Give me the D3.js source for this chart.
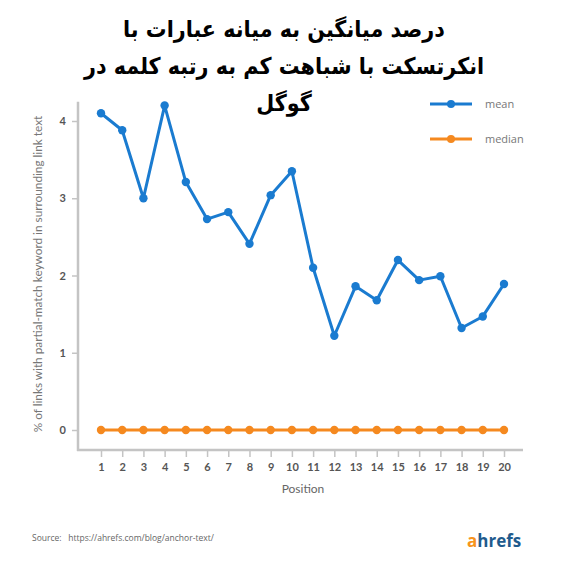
<!DOCTYPE html>
<html>
<head>
<meta charset="utf-8">
<script src="https://cdn.jsdelivr.net/npm/d3@7/dist/d3.min.js"></script>
<style>
html,body{margin:0;padding:0;background:#fff;}
svg{display:block;}
</style>
</head>
<body>
<svg id="chart" width="565" height="572"></svg>
<script>
const positions = [1,2,3,4,5,6,7,8,9,10,11,12,13,14,15,16,17,18,19,20];
const meanValues = [4.10,3.88,3.00,4.20,3.21,2.73,2.82,2.41,3.04,3.35,2.10,1.22,1.86,1.68,2.20,1.94,1.99,1.32,1.47,1.89];
const medianValues = [0,0,0,0,0,0,0,0,0,0,0,0,0,0,0,0,0,0,0,0];
const yTicks = [0,1,2,3,4];
const seriesNames = ["mean","median"];
const seriesColors = ["#1a7bd0","#f5891f"];
const titleLines = ["درصد میانگین به میانه عبارات با","انکرتسکت با شباهت کم به رتبه کلمه در","گوگل"];
const yLabel = "% of links with partial-match keyword in surrounding link text";
const xLabel = "Position";
const sourceText = "Source:   https://ahrefs.com/blog/anchor-text/";

const svg = d3.select("#chart");

const x = d3.scaleLinear().domain([1,20]).range([101,504]);
const y = d3.scaleLinear().domain([0,4]).range([430,121]);

const axisColor = "#c4c4c4";
svg.append("line").attr("x1",78).attr("x2",78).attr("y1",y(4.25)).attr("y2",451)
  .attr("stroke",axisColor).attr("stroke-width",2.5);
svg.append("line").attr("x1",77).attr("x2",523).attr("y1",450).attr("y2",450)
  .attr("stroke",axisColor).attr("stroke-width",2.5);

const yAxis = d3.axisLeft(y).tickValues(yTicks).tickSize(6).tickPadding(6).tickFormat(d3.format("d"));
const gy = svg.append("g").attr("transform","translate(78,0)").call(yAxis);
gy.select(".domain").remove();
gy.selectAll(".tick line").attr("stroke",axisColor).attr("stroke-width",1.5);
gy.selectAll(".tick text").attr("fill","#555").style("font-family","Lato, sans-serif")
  .style("font-size","11px").style("font-weight","bold");

const xAxis = d3.axisBottom(x).tickValues(positions).tickSize(6).tickPadding(6).tickFormat(d3.format("d"));
const gx = svg.append("g").attr("transform","translate(0,451)").call(xAxis);
gx.select(".domain").remove();
gx.selectAll(".tick line").attr("stroke",axisColor).attr("stroke-width",1.5);
gx.selectAll(".tick text").attr("fill","#555").style("font-family","Lato, sans-serif")
  .style("font-size","11px").style("font-weight","bold");

svg.append("text").attr("x",303).attr("y",493).attr("text-anchor","middle")
  .style("font-family","Lato, sans-serif").style("font-size","12px").attr("fill","#666").text(xLabel);
svg.append("text").attr("transform","translate(42,274) rotate(-90)").attr("text-anchor","middle")
  .style("font-family","Lato, sans-serif").style("font-size","11.8px").attr("fill","#777").text(yLabel);

const seriesData = [meanValues, medianValues];
const line = d3.line().x((d,i)=>x(positions[i])).y(d=>y(d));
[1,0].forEach(s=>{
  svg.append("path").datum(seriesData[s]).attr("d",line).attr("fill","none")
    .attr("stroke",seriesColors[s]).attr("stroke-width",3).attr("stroke-linejoin","round");
  svg.append("g").selectAll("circle").data(seriesData[s]).join("circle")
    .attr("cx",(d,i)=>x(positions[i])).attr("cy",d=>y(d)).attr("r",4.2).attr("fill",seriesColors[s]);
});

const legendY = [104,139];
seriesNames.forEach((n,i)=>{
  svg.append("line").attr("x1",430).attr("x2",472).attr("y1",legendY[i]).attr("y2",legendY[i])
    .attr("stroke",seriesColors[i]).attr("stroke-width",3);
  svg.append("circle").attr("cx",451).attr("cy",legendY[i]).attr("r",4).attr("fill",seriesColors[i]);
  svg.append("text").attr("x",485).attr("y",legendY[i]+4).style("font-family","'Open Sans', sans-serif")
    .style("font-size","11px").attr("fill","#777").text(n);
});

const titleY = [37,74,111];
titleLines.forEach((t,i)=>{
  svg.append("text").attr("transform",`translate(284,${titleY[i]}) scale(0.9,1)`)
    .attr("text-anchor","middle").attr("direction","rtl")
    .style("font-family","'DejaVu Sans', sans-serif").style("font-size","23px").style("font-weight","bold")
    .attr("fill","#000").text(t);
});

svg.append("text").attr("x",32).attr("y",541).style("font-family","'Open Sans', sans-serif")
  .style("font-size","8.5px").attr("fill","#666").style("white-space","pre").text(sourceText);

const logo = svg.append("text").attr("x",467).attr("y",547).style("font-family","'Open Sans', sans-serif")
  .style("font-size","17px").style("font-weight","bold");
logo.append("tspan").attr("fill","#f7941d").text("a");
logo.append("tspan").attr("fill","#1f5b8d").text("hrefs");
</script>
</body>
</html>
